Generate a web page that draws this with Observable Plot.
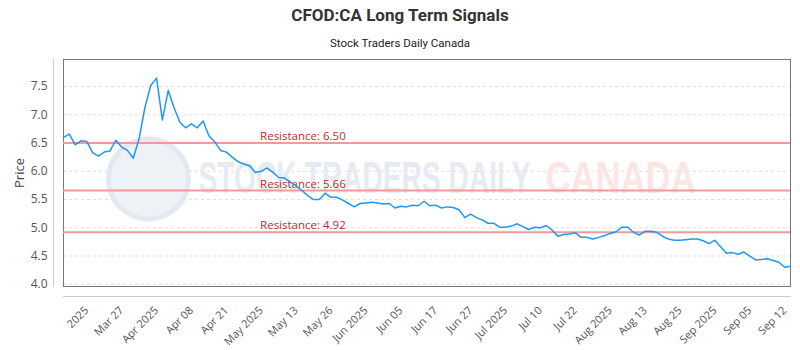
<!DOCTYPE html>
<html><head><meta charset="utf-8">
<script src="https://cdn.jsdelivr.net/npm/d3@7"></script>
<script src="https://cdn.jsdelivr.net/npm/@observablehq/plot@0.6"></script>
<style>
body{margin:0;background:#fff;width:800px;height:350px;overflow:hidden;font-family:"Open Sans",sans-serif}
#head{height:50px;position:relative}
#title{position:absolute;top:4px;left:0;width:800px;text-align:center}
#title span{display:inline-block;font:bold 17px "Liberation Sans Narrow","Roboto",sans-serif;color:#333}
#sub{position:absolute;top:30px;left:0;width:800px;text-align:center}
#sub span{display:inline-block;font:11.5px "Liberation Sans Narrow","Roboto",sans-serif;color:#222}
</style>
</head><body>
<div id="head"><div id="title"><span>CFOD:CA Long Term Signals</span></div><div id="sub"><span>Stock Traders Daily Canada</span></div></div>
<div id="chart"></div>
<script>
const prices = [
6.60,6.66,6.47,6.54,6.53,6.33,6.27,6.34,6.36,6.55,6.43,6.37,6.23,6.58,7.13,7.52,7.65,6.91,7.43,7.13,6.87,6.77,6.84,6.77,6.89,6.63,
6.52,6.37,6.34,6.25,6.17,6.13,6.10,5.98,6.00,6.06,5.98,5.89,5.88,5.81,5.74,5.66,5.57,5.50,5.50,5.61,5.54,5.54,5.49,5.43,5.37,
5.43,5.44,5.45,5.44,5.42,5.43,5.35,5.38,5.37,5.40,5.39,5.47,5.39,5.40,5.35,5.37,5.36,5.32,5.18,5.24,5.18,5.14,5.08,5.08,5.01,
5.01,5.03,5.07,5.02,4.97,5.01,5.00,5.04,4.96,4.85,4.88,4.89,4.91,4.83,4.83,4.80,4.83,4.86,4.90,4.93,5.01,5.01,4.92,4.87,4.94,
4.94,4.92,4.85,4.80,4.78,4.78,4.79,4.80,4.80,4.77,4.72,4.78,4.66,4.55,4.56,4.53,4.57,4.50,4.43,4.44,4.45,4.42,4.39,4.30,4.32
];
const tickIdx = [4,10,16,22,28,34,40,46,52,58,64,70,76,82,88,94,100,106,112,118,124];
const tickLabels = ["2025","Mar 27","Apr 2025","Apr 08","Apr 21","May 2025","May 13","May 26","Jun 2025","Jun 05","Jun 17","Jun 27","Jul 2025","Jul 10","Jul 22","Aug 2025","Aug 13","Aug 25","Sep 2025","Sep 05","Sep 12"];
const yTicks = [4.0,4.5,5.0,5.5,6.0,6.5,7.0,7.5];
const levels = [6.50,5.66,4.92];
const levelLabelIdx = 33.8;

const chart = Plot.plot({
  width: 800, height: 300,
  marginLeft: 63, marginRight: 10, marginTop: 9, marginBottom: 64,
  style: {fontFamily: "'Open Sans', sans-serif", fontSize: "12px", color: "#666", background: "#fff"},
  x: {domain: [0, prices.length - 1]},
  y: {domain: [3.96, 7.98]},
  marks: [
    Plot.gridY(yTicks, {stroke: "#ddd", strokeOpacity: 1, strokeDasharray: "3,3"}),
    Plot.dot([0], {frameAnchor: "left", dx: 85, dy: 6, r: 40, fill: "#eef2f7", stroke: "#e3e9f1", strokeWidth: 5}),
    Plot.text(["STOCK TRADERS DAILY"], {className: "wm1", frameAnchor: "left", dx: 135, dy: 6, textAnchor: "start", fill: "#e7ebf1", fontSize: 44, fontWeight: "bold", fontFamily: "'Liberation Sans Narrow', sans-serif"}),
    Plot.text(["CANADA"], {className: "wm2", frameAnchor: "left", dx: 482, dy: 6, textAnchor: "start", fill: "#fbe6e6", fontSize: 44, fontWeight: "bold", fontFamily: "'Liberation Sans Narrow', sans-serif"}),
    Plot.frame({stroke: "#777"}),
    Plot.frame({anchor: "left", dx: -10, stroke: "#ccc"}),
    Plot.frame({anchor: "bottom", dy: 10, stroke: "#ccc"}),
    Plot.ruleY(levels, {stroke: "#f09a9a", strokeWidth: 2}),
    Plot.text(levels, {x: () => levelLabelIdx, y: d => d, text: d => `Resistance: ${d.toFixed(2)}`, textAnchor: "start", lineAnchor: "bottom", dy: -3, fill: "#b5302f", fontSize: 11.5}),
    Plot.line(prices, {x: (d, i) => i, y: d => d, stroke: "#2196f3", strokeWidth: 1.5}),
    Plot.axisY(yTicks, {tickSize: 0, tickPadding: 16, tickFormat: d => d.toFixed(1), fill: "#555", label: null}),
    Plot.axisY({ticks: [], label: "Price", labelAnchor: "center", labelOffset: 49, labelArrow: "none", fill: "#444", fontSize: 13}),
    Plot.axisX(tickIdx, {tickSize: 0, tickPadding: 22, tickRotate: -45, fill: "#555", fontSize: 11, tickFormat: d => tickLabels[tickIdx.indexOf(d)], label: null})
  ]
});
document.getElementById("chart").appendChild(chart);
const wm1 = chart.querySelector(".wm1 text"); if (wm1) { wm1.setAttribute("textLength", 332); wm1.setAttribute("lengthAdjust", "spacingAndGlyphs"); }
const wm2 = chart.querySelector(".wm2 text"); if (wm2) { wm2.setAttribute("textLength", 150); wm2.setAttribute("lengthAdjust", "spacingAndGlyphs"); }
</script>
</body></html>
